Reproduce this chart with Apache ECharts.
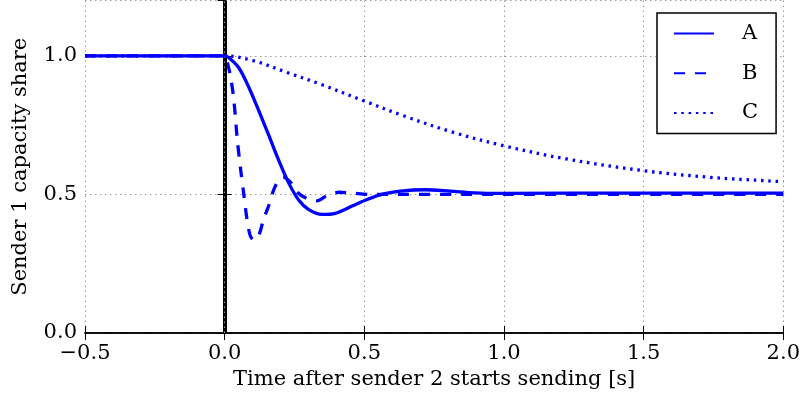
<!DOCTYPE html>
<html>
<head>
<meta charset="utf-8">
<script src="https://cdn.jsdelivr.net/npm/echarts@6/dist/echarts.min.js"></script>
<style>
  html, body { margin: 0; padding: 0; background: #fff; }
  #chart { width: 803px; height: 402px; }
</style>
</head>
<body>
<div id="chart"></div>
<script>
// 数据：时间 [s] 与 sender 1 容量占比
var seriesNames = ['A', 'B', 'C'];

var timeA = [-0.5, 0, 0.014, 0.05, 0.086, 0.121, 0.157, 0.19, 0.23, 0.265, 0.301, 0.349, 0.396, 0.456, 0.51, 0.569, 0.629, 0.718, 0.807, 0.896, 0.986, 1.5, 2.0];
var valA  = [1.0, 1.0, 0.994, 0.958, 0.888, 0.805, 0.716, 0.632, 0.540, 0.480, 0.445, 0.428, 0.432, 0.458, 0.482, 0.502, 0.512, 0.517, 0.512, 0.506, 0.504, 0.505, 0.505];

var timeB = [-0.5, 0, 0.01, 0.022, 0.033, 0.045, 0.057, 0.069, 0.08, 0.092, 0.105, 0.123, 0.14, 0.158, 0.175, 0.19, 0.21, 0.236, 0.26, 0.295, 0.33, 0.367, 0.41, 0.456, 0.52, 1.0, 2.0];
var valB  = [1.0, 1.0, 0.975, 0.920, 0.840, 0.700, 0.592, 0.496, 0.410, 0.350, 0.335, 0.355, 0.413, 0.460, 0.515, 0.545, 0.562, 0.544, 0.508, 0.485, 0.477, 0.496, 0.508, 0.505, 0.500, 0.500, 0.500];

var timeC = [-0.5, 0, 0.105, 0.224, 0.343, 0.498, 0.64, 0.819, 0.998, 1.224, 1.498, 1.736, 1.98, 2.0];
var valC  = [1.0, 1.0, 0.982, 0.940, 0.898, 0.838, 0.784, 0.724, 0.676, 0.628, 0.586, 0.562, 0.547, 0.546];

var xTicks = [-0.5, 0.0, 0.5, 1.0, 1.5, 2.0];
var yTicks = [0.0, 0.5, 1.0];

function pairs(t, v) {
    var out = [];
    for (var i = 0; i < t.length; i++) out.push([t[i], v[i]]);
    return out;
}

function fmtTick(v) {
    var s = Math.abs(v).toFixed(1);
    return v < 0 ? '\u2212' + s : s;
}

var FONT = 'DejaVu Serif';
var FS = 21;
var BLUE = '#0000ff';
var gridDot = { color: '#9a9a9a', width: 1, type: [1.5, 3.5] };

var chart = echarts.init(document.getElementById('chart'));

var option = {
    backgroundColor: '#ffffff',
    animation: false,
    textStyle: { fontFamily: FONT },
    grid: { left: 85, right: 18, top: 0.5, bottom: 69 },
    legend: {
        orient: 'vertical',
        left: 657,
        top: 13,
        data: seriesNames,
        itemWidth: 40,
        itemHeight: 20,
        itemGap: 18.7,
        padding: [10, 18, 10, 16],
        borderColor: '#000',
        borderWidth: 1.5,
        borderRadius: 0,
        backgroundColor: '#fff',
        itemStyle: { opacity: 0 },
        textStyle: { fontFamily: FONT, fontSize: FS, color: '#000', padding: [0, 0, 0, 23] }
    },
    xAxis: [{
        type: 'value',
        min: -0.5,
        max: 2.0,
        interval: 0.5,
        name: 'Time after sender 2 starts sending [s]',
        nameLocation: 'middle',
        nameGap: 34,
        nameTextStyle: { fontFamily: FONT, fontSize: FS, color: '#000' },
        axisLine: { show: true, lineStyle: { color: '#000', width: 1.5 } },
        axisTick: { show: true, inside: true, length: 7, lineStyle: { color: '#000', width: 1 } },
        axisLabel: { fontFamily: FONT, fontSize: FS, color: '#000', margin: 10, formatter: fmtTick },
        splitLine: { show: true, lineStyle: gridDot }
    }, {
        type: 'value',
        position: 'top',
        min: -0.5,
        max: 2.0,
        interval: 0.5,
        axisLine: { show: true, lineStyle: { color: '#000', width: 1.5 } },
        axisTick: { show: true, inside: true, length: 7, lineStyle: { color: '#000', width: 1 } },
        axisLabel: { show: false },
        splitLine: { show: false }
    }],
    yAxis: [{
        type: 'value',
        min: 0,
        max: 1.2,
        interval: 0.5,
        name: 'Sender 1 capacity share',
        nameLocation: 'middle',
        nameGap: 54,
        nameTextStyle: { fontFamily: FONT, fontSize: FS, color: '#000' },
        axisLine: { show: true, lineStyle: { color: '#000', width: 1.5 } },
        axisTick: { show: true, inside: true, length: 7, lineStyle: { color: '#000', width: 1 } },
        axisLabel: { fontFamily: FONT, fontSize: FS, color: '#000', margin: 8, showMaxLabel: false, formatter: fmtTick },
        splitLine: { show: true, lineStyle: gridDot }
    }, {
        type: 'value',
        position: 'right',
        min: 0,
        max: 1.2,
        interval: 0.5,
        axisLine: { show: true, lineStyle: { color: '#000', width: 1.5 } },
        axisTick: { show: true, inside: true, length: 7, lineStyle: { color: '#000', width: 1 } },
        axisLabel: { show: false },
        splitLine: { show: false }
    }],
    series: [{
        // t = 0 处的黑色竖线
        name: 'start',
        type: 'line',
        data: [],
        z: 1,
        markLine: {
            silent: true,
            symbol: 'none',
            label: { show: false },
            data: [
                { xAxis: 0, lineStyle: { color: '#000', width: 4, type: 'solid' } },
                { xAxis: 0, lineStyle: gridDot }
            ]
        }
    }, {
        name: 'A',
        type: 'line',
        data: pairs(timeA, valA),
        smooth: 0.3,
        symbol: 'none',
        z: 5,
        lineStyle: { color: BLUE, width: 3.3, type: 'solid' },
        itemStyle: { color: BLUE }
    }, {
        name: 'B',
        type: 'line',
        data: pairs(timeB, valB),
        smooth: 0.3,
        symbol: 'none',
        z: 4,
        lineStyle: { color: BLUE, width: 3.3, type: [11, 10] },
        itemStyle: { color: BLUE }
    }, {
        name: 'C',
        type: 'line',
        data: pairs(timeC, valC),
        smooth: 0.35,
        symbol: 'none',
        z: 3,
        lineStyle: { color: BLUE, width: 3.3, type: [2.5, 4.8] },
        itemStyle: { color: BLUE }
    }]
};

chart.setOption(option);
</script>
</body>
</html>
